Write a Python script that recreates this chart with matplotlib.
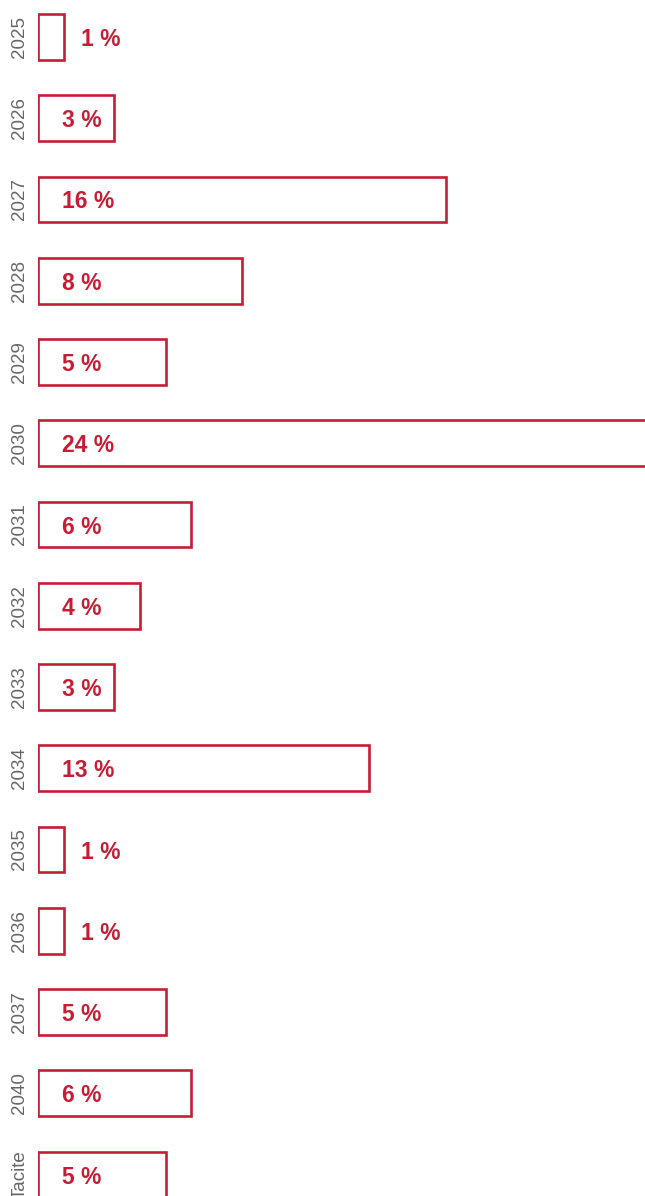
import matplotlib
matplotlib.use('Agg')
import matplotlib.pyplot as plt

plt.rcParams['font.family'] = ['Liberation Sans', 'DejaVu Sans']

years = ['2025', '2026', '2027', '2028', '2029', '2030', '2031', '2032',
         '2033', '2034', '2035', '2036', '2037', '2040', 'Tacite']
shares = [1, 3, 16, 8, 5, 24, 6, 4, 3, 13, 1, 1, 5, 6, 5]

red = '#c61d34'
grey = '#666666'

W, H = 645, 1196
fig = plt.figure(figsize=(W / 100, H / 100), dpi=100)
ax = fig.add_axes([38 / W, 0, (W - 38) / W, 1])

pos = list(range(len(years)))
ax.barh(pos, shares, height=0.566, left=0, facecolor='white',
        edgecolor=red, linewidth=1.9)

ax.set_xlim(0, (W - 38) / 25.5)
ax.set_ylim((H - 37) / 81.25, -37 / 81.25)

for i, v in enumerate(shares):
    x = v + 0.7 if v < 2 else 0.94
    ax.text(x, i, f'{v} %', color=red, fontsize=16.5, fontweight='bold',
            ha='left', va='center_baseline')

ax.set_yticks(pos)
ax.set_yticklabels(years, rotation=90, va='center', color=grey, fontsize=13.5)
ax.tick_params(axis='y', length=0, pad=7)
ax.set_xticks([])
for s in ax.spines.values():
    s.set_visible(False)

fig.savefig('out.png', dpi=100)
